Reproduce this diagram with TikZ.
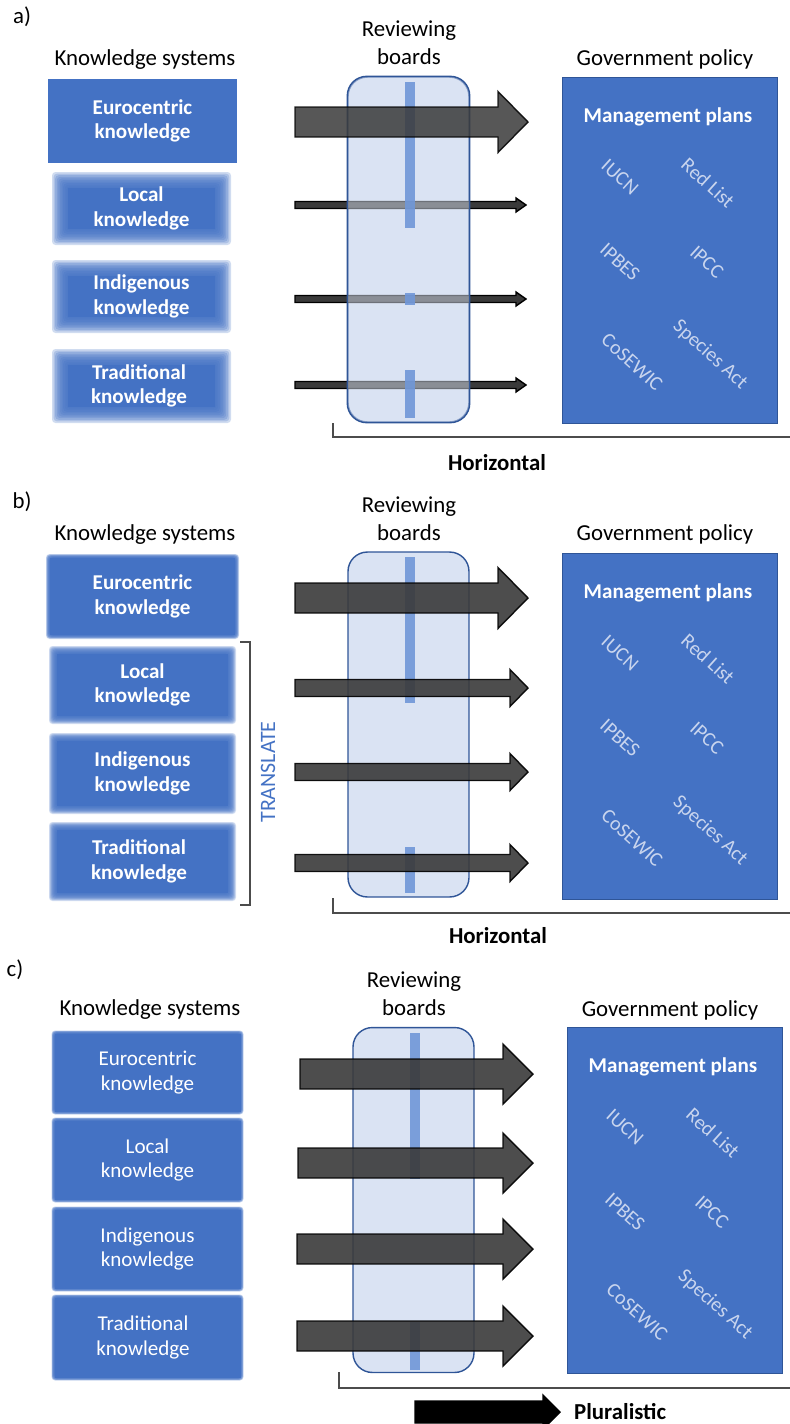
\documentclass[tikz,border=0pt]{standalone}
\usepackage{fontspec}
\setmainfont{Carlito}

\definecolor{ksblue}{HTML}{4472C4}
\definecolor{edgeblue}{HTML}{2F5597}
\definecolor{boardfill}{HTML}{DAE3F3}
\definecolor{barblue}{HTML}{7097D8}
\definecolor{arrowgrey}{HTML}{3A3A3A}
\definecolor{paleword}{HTML}{C9D5EE}

\newcommand\flowarrow[7][]{%
  \filldraw[flow,#1] (#2,#3-#6) -- (#4,#3-#6) -- (#4,#3-#7) -- (#5,#3)
    -- (#4,#3+#7) -- (#4,#3+#6) -- (#2,#3+#6) -- cycle;}

\newcommand\softbox[5]{%
  \foreach \k in {0,...,9}
    \fill[ksblue,opacity=.25,rounded corners=2pt]
      ({#1-#5+0.2*#5*\k},{#2-#5+0.2*#5*\k}) rectangle
      ({#3+#5-0.2*#5*\k},{#4+#5-0.2*#5*\k});
  \fill[ksblue] (#1+#5,#2+#5) rectangle (#3-#5,#4-#5);}

\newcommand\govpolicy[3]{%
  \node[policy,anchor=north west] (#3) at (#1,#2) {};
  \node[plans] (#3plans) at (#1+106,#2+40) {Management plans};
  \node[agency] (#3iucn) at (#1+58,#2+100) {IUCN};
  \node[agency] (#3red) at (#1+146,#2+106) {Red List};
  \node[agency] (#3ipbes) at (#1+58,#2+185) {IPBES};
  \node[agency] (#3ipcc) at (#1+145,#2+185) {IPCC};
  \node[agency] (#3cos) at (#1+70,#2+285) {CoSEWIC};
  \node[agency] (#3species) at (#1+148,#2+278) {Species Act};}

\begin{document}
\begin{tikzpicture}[x=0.02cm,y=-0.02cm,
  tag/.style={font=\fontsize{13}{16}\selectfont},
  head/.style={font=\fontsize{13}{16}\selectfont,align=center},
  kstext/.style={text=white,font=\fontsize{12}{14}\selectfont\bfseries,align=center},
  ksplain/.style={text=white,font=\fontsize{12}{14}\selectfont,align=center},
  ksbox/.style={fill=ksblue,inner sep=0pt},
  board/.style={fill=boardfill,draw=edgeblue,line width=0.8pt,rounded corners=11pt,
    minimum width=2.42cm,minimum height=6.9cm},
  bar/.style={fill=barblue,opacity=.9},
  flow/.style={fill=arrowgrey,draw=black,line width=0.8pt,opacity=.9},
  policy/.style={fill=ksblue,draw=edgeblue,line width=0.6pt,inner sep=0pt,
    minimum width=4.3cm,minimum height=6.92cm},
  plans/.style={text=white,font=\fontsize{12}{14}\selectfont\bfseries},
  agency/.style={text=paleword,font=\fontsize{11.5}{13}\selectfont,rotate=-42,inner sep=1pt},
  bracket/.style={draw=black!70,line width=0.7pt},
  verdict/.style={font=\fontsize{13}{16}\selectfont\bfseries}]

  \useasboundingbox (0,0) rectangle (790,1424);

  % a)
  \node[tag] (atag) at (22,17) {a)};
  \node[head] (aks) at (145,60) {Knowledge systems};
  \node[ksbox,kstext,minimum width=3.78cm,minimum height=1.68cm] (aeuro) at (142.5,121) {Eurocentric\\knowledge};
  \softbox{60}{180}{223}{237}{8}
  \node[kstext] (alocal) at (141.5,208.5) {Local\\knowledge};
  \softbox{60}{268}{223}{325}{8}
  \node[kstext] (aindig) at (141.5,296.5) {Indigenous\\knowledge};
  \softbox{60}{357}{223}{415}{8}
  \node[kstext] (atrad) at (139,386) {Traditional\\knowledge};

  \node[head] (arb) at (409,43) {Reviewing\\boards};
  \node[board] (aboard) at (408.5,249.5) {};
  \flowarrow[opacity=1]{295}{205}{516}{526}{3.5}{7}
  \flowarrow[opacity=1]{295}{299}{516}{526}{3.5}{7}
  \flowarrow[opacity=1]{295}{385}{516}{526}{3.5}{7}
  \fill[boardfill,opacity=.5,rounded corners=11pt] (aboard.south west) rectangle (aboard.north east);
  \draw[edgeblue,line width=0.8pt,rounded corners=11pt] (aboard.south west) rectangle (aboard.north east);
  \fill[bar] (405,82) rectangle (415,228);
  \fill[bar] (405,293) rectangle (415,305);
  \fill[bar] (405,370) rectangle (415,418);
  \flowarrow[opacity=.85]{295}{122}{498}{528}{15}{30.5}

  \node[head] (agov) at (665,59) {Government policy};
  \govpolicy{562}{77}{apol}
  \draw[bracket] (333,423) |- (790,437);
  \node[verdict] (ahoriz) at (497,463) {Horizontal};

  % b)
  \node[tag] (btag) at (22,502) {b)};
  \node[head] (bks) at (145,535) {Knowledge systems};
  \softbox{48}{556}{237}{637}{2}
  \node[kstext] (beuro) at (142.5,596.5) {Eurocentric\\knowledge};
  \softbox{53}{650}{232}{720}{4}
  \node[kstext] (blocal) at (142.5,685) {Local\\knowledge};
  \softbox{53}{737}{232}{810}{4}
  \node[kstext] (bindig) at (142.5,773.5) {Indigenous\\knowledge};
  \softbox{53}{826}{232}{897}{4}
  \node[kstext] (btrad) at (139,861.5) {Traditional\\knowledge};
  \draw[bracket] (240,642) -| (250,905) -- (240,905);
  \node[font=\fontsize{12.5}{15}\selectfont,text=ksblue,rotate=90] (btrans) at (268,772) {TRANSLATE};

  \node[head] (brb) at (409,519) {Reviewing\\boards};
  \node[board] (bboard) at (408.5,724.5) {};
  \fill[bar] (405,557) rectangle (415,703);
  \fill[bar] (405,847) rectangle (415,893);
  \flowarrow{295}{598}{498}{528}{15}{30.5}
  \flowarrow{295}{688}{510}{528}{8.5}{18.5}
  \flowarrow{295}{772}{510}{528}{8.5}{18.5}
  \flowarrow{295}{863}{510}{528}{8.5}{18.5}

  \node[head] (bgov) at (665,534) {Government policy};
  \govpolicy{562}{553}{bpol}
  \draw[bracket] (333,898) |- (790,913);
  \node[verdict] (bhoriz) at (498,936) {Horizontal};

  % c)
  \node[tag] (ctag) at (15,970) {c)};
  \node[head] (cks) at (150,1010) {Knowledge systems};
  \softbox{53}{1032}{242}{1113}{1.5}
  \node[ksplain] (ceuro) at (147.5,1072.5) {Eurocentric\\knowledge};
  \softbox{53}{1119}{242}{1201}{1.5}
  \node[ksplain] (clocal) at (147.5,1160) {Local\\knowledge};
  \softbox{53}{1208}{242}{1290}{1.5}
  \node[ksplain] (cindig) at (147.5,1249) {Indigenous\\knowledge};
  \softbox{53}{1296}{242}{1379}{1.5}
  \node[ksplain] (ctrad) at (143,1337.5) {Traditional\\knowledge};

  \node[head] (crb) at (414,994) {Reviewing\\boards};
  \node[board] (cboard) at (413.5,1200) {};
  \fill[bar] (410,1033) rectangle (420,1179);
  \fill[bar] (410,1322) rectangle (420,1370);
  \flowarrow{300}{1074}{503}{533}{15}{30}
  \flowarrow{298}{1163}{503}{533}{15}{30}
  \flowarrow{297}{1249}{503}{533}{15}{30}
  \flowarrow{297}{1336}{503}{533}{15}{30}

  \node[head] (cgov) at (670,1010) {Government policy};
  \govpolicy{567}{1027}{cpol}
  \draw[bracket] (339,1372) |- (790,1388);
  \flowarrow[fill=black,opacity=1]{415}{1412}{543}{560}{11}{17}
  \node[verdict,anchor=west] (cplural) at (568,1412) {Pluralistic};

\end{tikzpicture}
\end{document}
